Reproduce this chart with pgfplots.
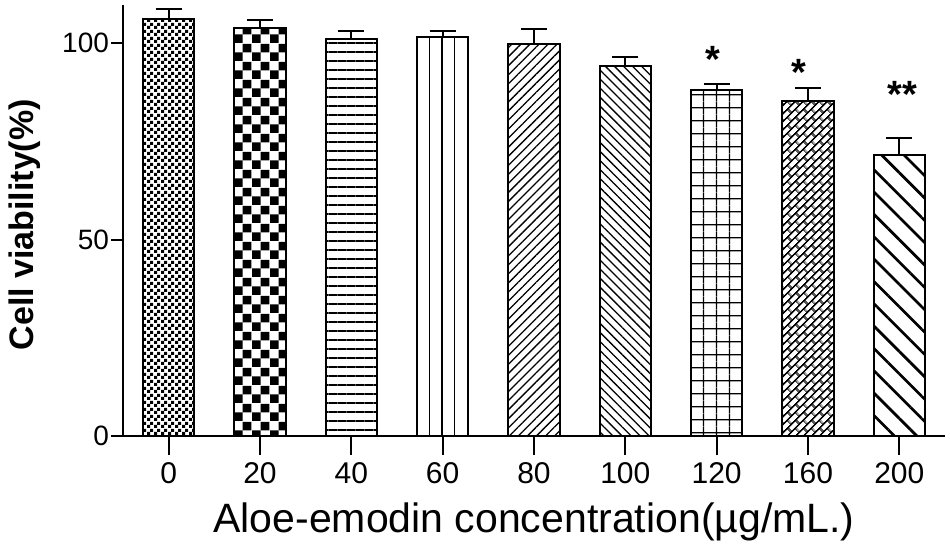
\documentclass[border=0pt]{standalone}
\usepackage{fontspec}
\setmainfont{Liberation Sans}
\usepackage{pgfplots}
\pgfplotsset{compat=1.18}
\usetikzlibrary{patterns.meta}

\tikzdeclarepattern{
  name=finecheck, type=uncolored,
  bounding box={(0pt,0pt) and (3.5pt,3.5pt)},
  tile size={(3.5pt,3.5pt)},
  code={\fill (0pt,0pt) rectangle (1.75pt,1.75pt); \fill (1.75pt,1.75pt) rectangle (3.5pt,3.5pt);}
}
\tikzdeclarepattern{
  name=bigcheck, type=uncolored,
  bounding box={(0pt,0pt) and (9pt,9pt)},
  tile size={(9pt,9pt)},
  code={\fill (0pt,0pt) rectangle (4.5pt,4.5pt); \fill (4.5pt,4.5pt) rectangle (9pt,9pt);}
}
\tikzdeclarepattern{
  name=bricks, type=uncolored,
  bounding box={(0pt,0pt) and (5.6pt,5.6pt)},
  tile size={(5.6pt,5.6pt)},
  tile transformation={rotate=45},
  code={
    \draw[line width=0.8pt] (0pt,1.4pt) -- (5.6pt,1.4pt);
    \draw[line width=0.8pt] (0pt,4.2pt) -- (5.6pt,4.2pt);
    \draw[line width=0.8pt] (1.4pt,1.4pt) -- (1.4pt,4.2pt);
    \draw[line width=0.8pt] (4.2pt,4.2pt) -- (4.2pt,5.6pt);
    \draw[line width=0.8pt] (4.2pt,0pt) -- (4.2pt,1.4pt);
  }
}

\pgfplotsset{
  mybar/.style={
    bar width=0.56, bar shift=0pt, draw=black, line width=1pt, pattern color=black,
    error bars/y dir=plus, error bars/y explicit,
    error bars/error bar style={line width=1pt, black, solid},
    error bars/error mark options={rotate=90, mark size=6.5pt, line width=1pt, black}
  },
  common/.style={
    at={(0pt,0pt)}, anchor=south west,
    scale only axis, width=411pt, height=215.5pt,
    xmin=-0.5, xmax=8.5, ymin=0, ymax=109.7,
    axis line style={-, line width=1pt, black},
    tick align=outside,
    tick style={line width=1pt, black},
  }
}

\begin{document}
\begin{tikzpicture}
\begin{axis}[
  axis x line=bottom, axis y line=left,
  common,
  ybar, clip=false,
  xtick=\empty,
  ytick={0,50,100}, yticklabels={0,50,100},
  major tick length=6pt,
  yticklabel style={font=\fontsize{14}{14}\selectfont, xshift=2.5pt},
  xlabel={Aloe-emodin concentration(µg/mL.)},
  xlabel style={font=\fontsize{20.5}{20.5}\selectfont, at={(axis description cs:0.5,-0.225)}, anchor=base},
  ylabel={\bfseries Cell viability(\%)},
  ylabel style={font=\fontsize{17}{17}\selectfont, at={(axis description cs:-0.119,0.49)}, anchor=center},
]
\addplot[pattern=finecheck, mybar] coordinates {(0,106.1) +- (0,2.5)};
\addplot[pattern=bigcheck, mybar] coordinates {(1,103.8) +- (0,2.0)};
\addplot[pattern={Lines[angle=0,distance=4.5pt,line width=0.6pt]}, mybar] coordinates {(2,101.0) +- (0,2.1)};
\addplot[pattern={Lines[angle=90,distance=6.325pt,xshift=5.97pt,line width=0.65pt]}, mybar] coordinates {(3,101.6) +- (0,1.6)};
\addplot[pattern={Lines[angle=45,distance=3.2pt,line width=0.65pt]}, mybar] coordinates {(4,99.7) +- (0,3.8)};
\addplot[pattern={Lines[angle=-45,distance=3.2pt,line width=0.65pt]}, mybar] coordinates {(5,94.1) +- (0,2.3)};
\addplot[pattern={Hatch[angle=0,distance=6.4pt,line width=0.65pt]}, mybar] coordinates {(6,88.0) +- (0,1.5)};
\addplot[pattern=bricks, mybar] coordinates {(7,85.2) +- (0,3.3)};
\addplot[pattern={Lines[angle=-45,distance=7.9pt,line width=1.35pt]}, mybar] coordinates {(8,71.6) +- (0,4.3)};
\node[font=\fontsize{19}{19}\selectfont\bfseries, anchor=center] at (axis cs:5.96,95.9) {*};
\node[font=\fontsize{19}{19}\selectfont\bfseries, anchor=center] at (axis cs:6.9,92.6) {*};
\node[font=\fontsize{19}{19}\selectfont\bfseries, anchor=center] at (axis cs:8.03,87.0) {**};
\end{axis}
\begin{axis}[
  axis x line=bottom, hide y axis,
  common,
  xtick={0,1,2,3,4,5,6,7,8},
  xticklabels={0,20,40,60,80,100,120,160,200},
  major tick length=9.5pt,
  xticklabel style={font=\fontsize{15}{15}\selectfont},
]
\end{axis}
\pgfresetboundingbox
\path[use as bounding box] (-61.5pt,-55.5pt) rectangle (413.5pt,218pt);
\end{tikzpicture}
\end{document}
